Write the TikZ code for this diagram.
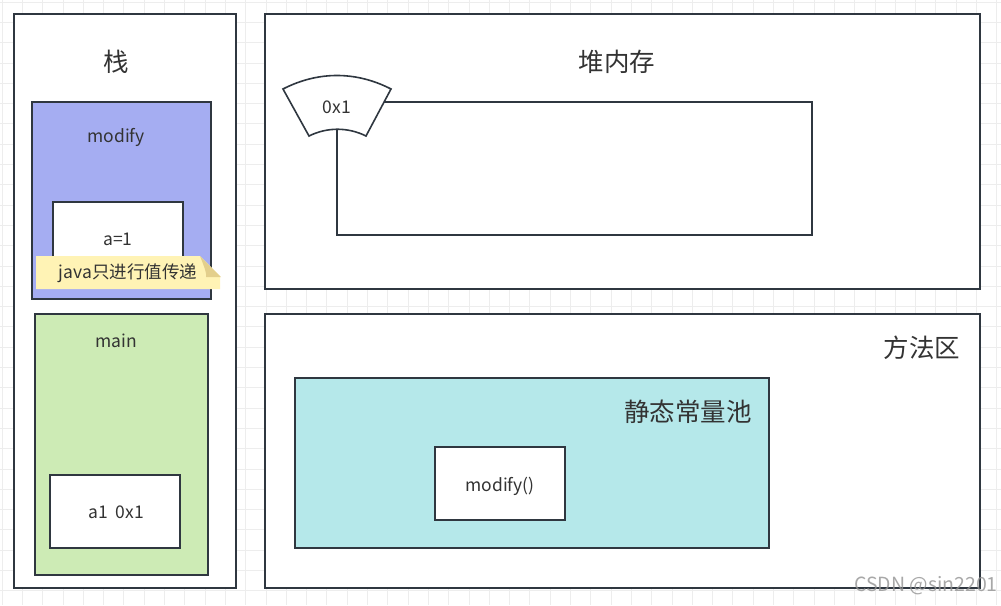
\documentclass[tikz,border=0pt]{standalone}
\usepackage{fontspec}
\setmainfont{Noto Sans CJK SC}
\usetikzlibrary{positioning}
\definecolor{edge}{HTML}{2F3740}
\definecolor{gridc}{HTML}{EDEDED}
\definecolor{lav}{HTML}{A5ADF2}
\definecolor{lgreen}{HTML}{CDEBB5}
\definecolor{lcyan}{HTML}{B5E8EA}
\definecolor{noteY}{HTML}{FFF3B5}
\definecolor{noteF}{HTML}{E3CF8C}
\definecolor{txt}{HTML}{333333}
\tikzset{
  box/.style={draw=edge, line width=1.6pt, fill=white, rectangle, inner sep=0pt, outer sep=0pt, anchor=north west},
  small/.style={text=txt, font=\fontsize{17.5}{20}\selectfont, inner sep=0pt},
  big/.style={text=txt, font=\fontsize{25.5}{30}\selectfont, inner sep=0pt},
}
\newcommand{\boxat}[6][white]{% fill, name, x, y, w, h
  \node[box, fill=#1, minimum width=#5pt, minimum height=#6pt] (#2) at (#3,#4) {};}
\begin{document}
\begin{tikzpicture}[x=1pt, y=-1pt]
\useasboundingbox (0,0) rectangle (1001,605);
\fill[white] (0,0) rectangle (1001,605);
% background grid
\foreach \i in {0,...,49} {
  \draw[gridc, line width=0.8pt] ({2+20.3*\i},0) -- ({2+20.3*\i},605);
}
\foreach \i in {0,...,29} {
  \draw[gridc, line width=0.8pt] (0,{2+20.3*\i}) -- (1001,{2+20.3*\i});
}

% stack
\boxat{stack}{14}{14}{222}{574}
\node[big] (stackT) at (116,62) {栈};
\boxat[lav]{modifyF}{32}{102}{179}{197}
\node[small] (modifyT) at (116,137) {modify};
\boxat{aBox}{53}{202}{130}{80}
\node[small] (aT) at (118,239) {a=1};
% sticky note with folded corner
\fill[noteY] (36,256) -- (200,256) -- (220,276) -- (220,289) -- (36,289) -- cycle;
\fill[noteF] (200,256) .. controls (204,266) and (207,274) .. (206,277) -- (221,277) -- cycle;
\node[small] (noteT) at (128,273) {java只进行值传递};
\boxat[lgreen]{mainF}{35}{314}{173}{261}
\node[small] (mainT) at (116,341) {main};
\boxat{a1Box}{50}{475}{130}{73}
\node[small] (a1T) at (116,512) {a1\ \ 0x1};

% heap
\boxat{heap}{265}{14}{715}{275}
\node[big] (heapT) at (617,62) {堆内存};
\boxat{obj}{337}{102}{475}{133}
\draw[edge, line width=1.6pt, fill=white]
  (283,89) .. controls (318,71) and (356,71) .. (391,89) -- (366,136)
  .. controls (348,127) and (327,127) .. (309,136) -- cycle;
\node[small] (refT) at (337,107) {0x1};

% method area
\boxat{method}{265}{314}{715}{274}
\node[big] (methodT) at (922,348) {方法区};
\boxat[lcyan]{pool}{295}{378}{474}{170}
\node[big] (poolT) at (688,412) {静态常量池};
\boxat{mBox}{435}{447}{130}{73}
\node[small] (mT) at (500,486) {modify()};

% watermark
\node[text=gray!85, opacity=0.8, font=\fontsize{19.5}{22}\selectfont, inner sep=0pt, anchor=east] (wm) at (998,586) {CSDN @sin2201};
\end{tikzpicture}
\end{document}
